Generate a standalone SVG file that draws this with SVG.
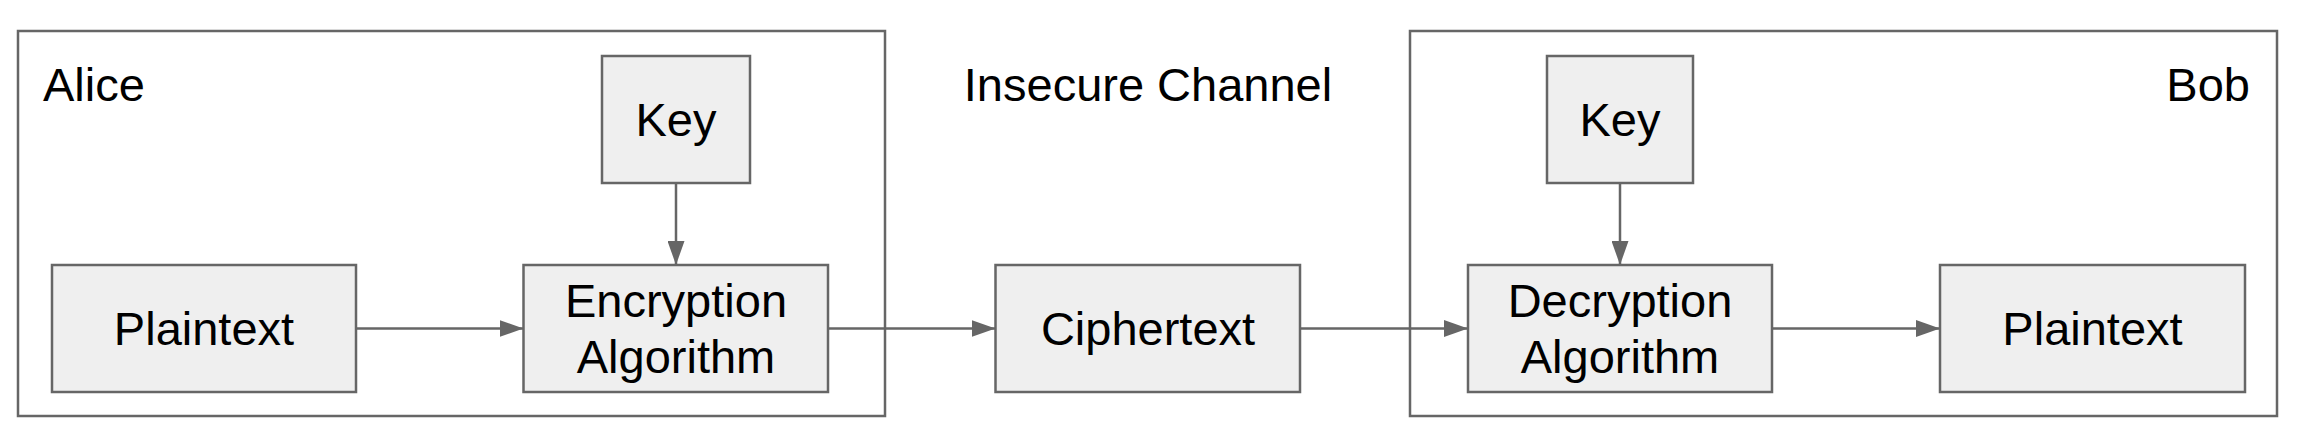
<svg xmlns="http://www.w3.org/2000/svg" width="2302" height="436" viewBox="0 0 2302 436">
<style>
.bg{fill:#ffffff}
.group{fill:none;stroke:#666666;stroke-width:2.5}
.box{fill:#efefef;stroke:#666666;stroke-width:2.5}
.t{font-family:"Liberation Sans",Arial,sans-serif;font-size:47px;fill:#000000}
.c{text-anchor:middle}
.conn{stroke:#666666;stroke-width:2.5;fill:none}
</style>
<defs>
<marker id="arr" viewBox="0 0 24 17" refX="24" refY="8.5" markerWidth="24" markerHeight="17" markerUnits="userSpaceOnUse" orient="auto">
<path d="M0,0 L24,8.5 L0,17 Z" fill="#666666"/>
</marker>
</defs>
<rect class="bg" x="0" y="0" width="2302" height="436"/>
<g id="alice">
<rect class="group" x="18" y="31" width="867" height="385"/>
<text class="t" x="43" y="101">Alice</text>
</g>
<g id="channel">
<text class="t c" x="1148" y="101">Insecure Channel</text>
</g>
<g id="bob">
<rect class="group" x="1410" y="31" width="867" height="385"/>
<text class="t" x="2250" y="101" text-anchor="end">Bob</text>
</g>
<g id="connectors">
<line class="conn" x1="676" y1="183" x2="676" y2="265" marker-end="url(#arr)"/>
<line class="conn" x1="356" y1="328.5" x2="523.5" y2="328.5" marker-end="url(#arr)"/>
<line class="conn" x1="828" y1="328.5" x2="995.5" y2="328.5" marker-end="url(#arr)"/>
<line class="conn" x1="1300" y1="328.5" x2="1468" y2="328.5" marker-end="url(#arr)"/>
<line class="conn" x1="1620" y1="183" x2="1620" y2="265" marker-end="url(#arr)"/>
<line class="conn" x1="1772" y1="328.5" x2="1940" y2="328.5" marker-end="url(#arr)"/>
</g>
<g id="alice-key">
<rect class="box" x="602" y="56" width="148" height="127"/>
<text class="t c" x="676" y="136">Key</text>
</g>
<g id="alice-plaintext">
<rect class="box" x="52" y="265" width="304" height="127"/>
<text class="t c" x="204" y="345">Plaintext</text>
</g>
<g id="encryption">
<rect class="box" x="523.5" y="265" width="304.5" height="127"/>
<text class="t c" x="676" y="317">Encryption</text>
<text class="t c" x="676" y="373">Algorithm</text>
</g>
<g id="ciphertext">
<rect class="box" x="995.5" y="265" width="304.5" height="127"/>
<text class="t c" x="1148" y="345">Ciphertext</text>
</g>
<g id="bob-key">
<rect class="box" x="1547" y="56" width="146" height="127"/>
<text class="t c" x="1620" y="136">Key</text>
</g>
<g id="decryption">
<rect class="box" x="1468" y="265" width="304" height="127"/>
<text class="t c" x="1620" y="317">Decryption</text>
<text class="t c" x="1620" y="373">Algorithm</text>
</g>
<g id="bob-plaintext">
<rect class="box" x="1940" y="265" width="305" height="127"/>
<text class="t c" x="2092.5" y="345">Plaintext</text>
</g>
</svg>
